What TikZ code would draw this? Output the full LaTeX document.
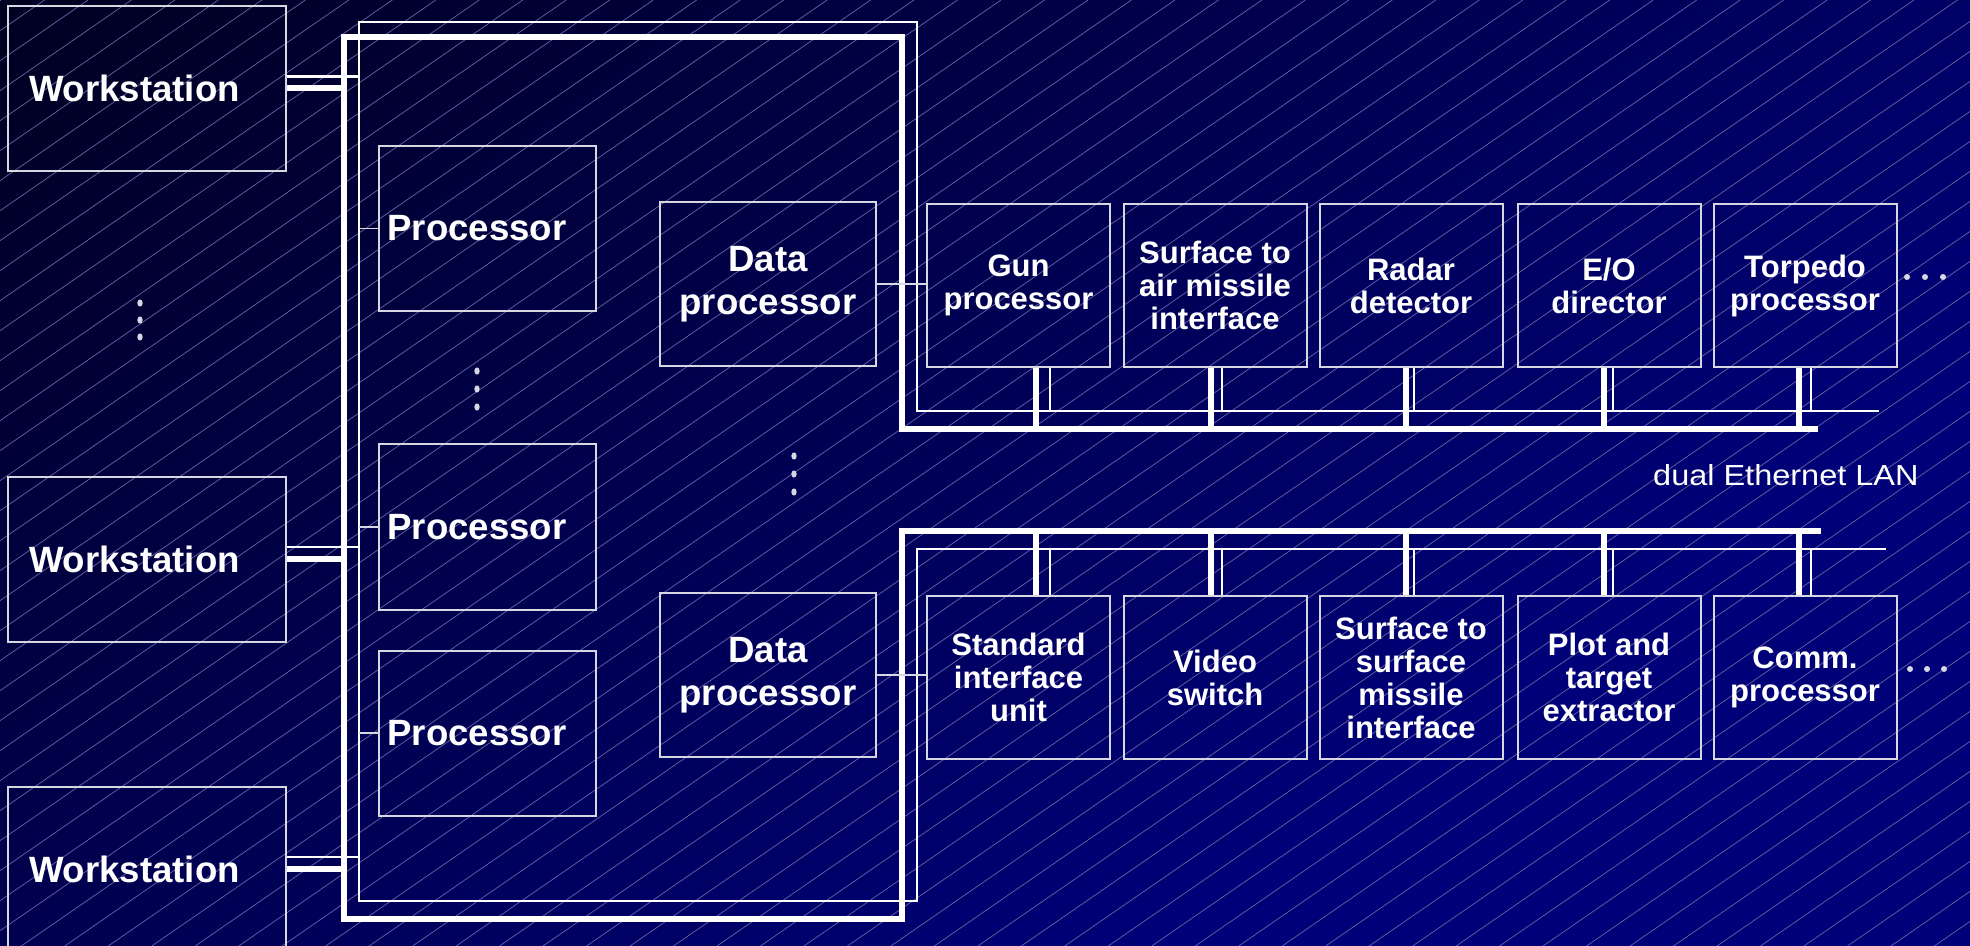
\documentclass[tikz,border=0pt]{standalone}
\usepackage{fontspec}
\setmainfont{Liberation Sans}
\newfontfamily\lanfont[FakeStretch=1.12]{Liberation Sans}
\usetikzlibrary{calc}

\definecolor{bgdark}{RGB}{0,0,32}
\definecolor{bglight}{RGB}{0,0,120}
\definecolor{hatchline}{RGB}{96,96,158}
\definecolor{boxline}{RGB}{215,215,225}

% diagonal backdrop: dark navy in the upper left, brighter blue to the lower right
\pgfdeclarehorizontalshading{bgsweep}{100bp}{color(0bp)=(bgdark); color(26bp)=(bgdark); color(62bp)=(bglight); color(100bp)=(bglight)}

\newcommand\bigfont{\fontsize{18.3pt}{21.5pt}\selectfont\bfseries}
\newcommand\smallfont{\fontsize{15.5pt}{16.5pt}\selectfont\bfseries}

\begin{document}
\begin{tikzpicture}[x=0.5pt,y=-0.5pt,
  hatch/.style={draw=hatchline, line width=0.38pt},
  unit/.style={draw=boxline, line width=1pt, text=white, inner sep=0pt},
  wsbox/.style={unit, font=\bigfont, align=left, text width=118pt, inner xsep=10.5pt, minimum height=82.5pt},
  procbox/.style={unit, font=\bigfont, align=left, text width=100pt, inner xsep=4.25pt, minimum height=82.5pt},
  dpbox/.style={unit, font=\bigfont, align=center, minimum width=108pt, minimum height=82pt},
  subbox/.style={unit, font=\smallfont, align=center, minimum width=91.5pt, minimum height=81.5pt},
  thickbus/.style={draw=white, line width=3.25pt, line join=miter},
  thinbus/.style={draw=white, line width=1.3pt, line join=miter},
  wsthick/.style={draw=white, line width=3pt},
  wsthin/.style={draw=white, line width=1.2pt},
  link/.style={draw=boxline, line width=0.8pt},
  dotmark/.style={fill=boxline}
]
\useasboundingbox (0,0) rectangle (1970,946);

% background and hatching
\begin{scope}
  \clip (0,0) rectangle (1970,946);
  \shade[shading=bgsweep, shading angle=-55] (-15,-527) rectangle (1985,1473);
  \foreach \k in {0,...,78}
    \draw[hatch] ({(30*\k+0.7)/0.69},0) -- ({(30*\k+0.7-946)/0.69},946);
\end{scope}

% workstations
\node[wsbox] (ws1) at (147,88.5) {Workstation};
\node[wsbox] (ws2) at (147,559) {Workstation};
\node[wsbox] (ws3) at (147,869) {Workstation};

% processors
\node[procbox] (proc1) at (487.5,228.5) {Processor};
\node[procbox] (proc2) at (487.5,527) {Processor};
\node[procbox] (proc3) at (487.5,733) {Processor};

% data processors
\node[dpbox] (dp1) at (768,284) {Data\\processor};
\node[dpbox] (dp2) at (768,675) {Data\\processor};

% subsystems on the upper LAN
\node[subbox] (gun)   at (1018.5,285.5) {Gun\\processor};
\node[subbox] (sam)   at (1215,285.5)   {Surface to\\air missile\\interface};
\node[subbox] (radar) at (1411,285.5)   {Radar\\detector};
\node[subbox] (eo)    at (1609,285.5)   {E/O\\director};
\node[subbox] (torp)  at (1805,285.5)   {Torpedo\\processor};

% subsystems on the lower LAN
\node[subbox] (siu)   at (1018.5,677.5) {Standard\\interface\\unit};
\node[subbox] (vid)   at (1215,677.5)   {Video\\switch};
\node[subbox] (ssm)   at (1411,677.5)   {Surface to\\surface\\missile\\interface};
\node[subbox] (plot)  at (1609,677.5)   {Plot and\\target\\extractor};
\node[subbox] (comm)  at (1805,677.5)   {Comm.\\processor};

\node[anchor=base east, text=white, inner sep=0pt, font=\lanfont\fontsize{14.5pt}{17pt}\selectfont] (lan) at (1919,486) {dual Ethernet LAN};

% bus corner points
\coordinate (tk1) at (1818,429); \coordinate (tk2) at (902,429);
\coordinate (tk3) at (902,37);   \coordinate (tk4) at (344,37);
\coordinate (tk5) at (344,919);  \coordinate (tk6) at (902,919);
\coordinate (tk7) at (902,531);  \coordinate (tk8) at (1821,531);
\coordinate (tn1) at (1879,411); \coordinate (tn2) at (917,411);
\coordinate (tn3) at (917,22);   \coordinate (tn4) at (359,22);
\coordinate (tn5) at (359,901);  \coordinate (tn6) at (917,901);
\coordinate (tn7) at (917,549);  \coordinate (tn8) at (1886,549);

% the dual bus
\draw[thickbus] (tk1) -- (tk2) -- (tk3) -- (tk4) -- (tk5) -- (tk6) -- (tk7) -- (tk8);
\draw[thinbus]  (tn1) -- (tn2) -- (tn3) -- (tn4) -- (tn5) -- (tn6) -- (tn7) -- (tn8);

% workstation taps
\foreach \w in {ws1,ws2,ws3} {
  \draw[wsthick] (\w.east) -- (\w.east -| tk4);
  \draw[wsthin] ([yshift=6pt]\w.east) -- ([yshift=6pt]\w.east -| tn4);
}

% processor taps
\foreach \p in {proc1,proc2,proc3}
  \draw[link] (\p.west) -- (\p.west -| tn4);

% data processor links
\draw[link] (dp1.east) -- (dp1.east -| gun.west);
\draw[link] (dp2.east) -- (dp2.east -| siu.west);

% subsystem taps, upper LAN
\foreach \n/\a/\b in {gun/8.75pt/15.75pt, sam/-2pt/3.5pt, radar/-2.5pt/1.5pt, eo/-2.5pt/2pt, torp/-3pt/3pt} {
  \draw[thickbus] ([xshift=\a]\n.south) -- ([xshift=\a]\n.south |- tk1);
  \draw[thinbus]  ([xshift=\b]\n.south) -- ([xshift=\b]\n.south |- tn1);
}
% subsystem taps, lower LAN
\foreach \n/\a/\b in {siu/8.75pt/15.75pt, vid/-2pt/3.5pt, ssm/-2.5pt/1.5pt, plot/-2.5pt/2pt, comm/-3pt/3pt} {
  \draw[thickbus] ([xshift=\a]\n.north) -- ([xshift=\a]\n.north |- tk8);
  \draw[thinbus]  ([xshift=\b]\n.north) -- ([xshift=\b]\n.north |- tn8);
}

% ellipsis marks
\foreach \y in {303,320,337} \fill[dotmark] (140,\y) ellipse [x radius=1.35pt, y radius=1.8pt];
\foreach \y in {371,389,407} \fill[dotmark] (477,\y) ellipse [x radius=1.35pt, y radius=1.8pt];
\foreach \y in {456,474,492} \fill[dotmark] (794,\y) ellipse [x radius=1.35pt, y radius=1.8pt];
\foreach \x in {1907,1925,1943} \fill[dotmark] (\x,277) circle (1.5pt);
\foreach \x in {1910,1927,1944} \fill[dotmark] (\x,669) circle (1.5pt);
\end{tikzpicture}
\end{document}
